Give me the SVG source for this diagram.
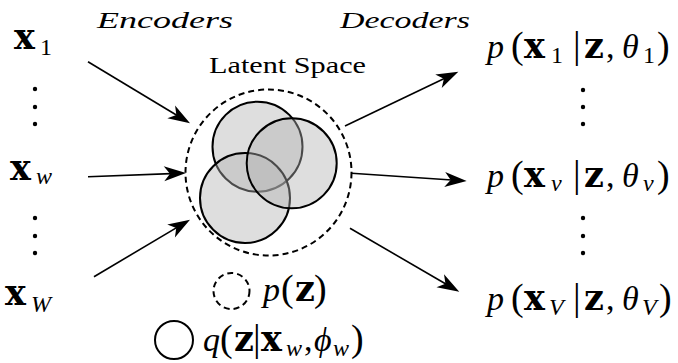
<svg xmlns="http://www.w3.org/2000/svg" width="678" height="363" viewBox="0 0 678 363">
<style>
text { font-family: 'Liberation Serif', 'DejaVu Serif', serif; fill: #000; }
.m { font-size: 34px; }
.s { font-size: 24px; }
.i { font-style: italic; }
.pa { font-size: 38px; }
.b { font-family: 'DejaVu Serif', 'Liberation Serif', serif; font-weight: bold; font-size: 35px; }
.conn line { stroke: #000; stroke-width: 1.6; fill: none; marker-end: url(#arr); }
.lat { fill: #b0b0b0; fill-opacity: 0.42; stroke: #000; stroke-width: 2; }
.dash { fill: none; stroke: #000; stroke-width: 2; stroke-dasharray: 6 4; }
.dot { fill: #000; }
</style>
<defs>
<marker id="arr" markerUnits="userSpaceOnUse" markerWidth="26" markerHeight="18" viewBox="-1 -9 26 18" refX="7" refY="0" orient="auto">
<path d="M22,0 L0,-7.5 L6,0 L0,7.5 Z" fill="#000"/>
</marker>
</defs>
<rect width="678" height="363" fill="#fff"/>

<g id="label-encoders"><text class="i" x="97" y="28" font-size="24" textLength="136" lengthAdjust="spacingAndGlyphs">Encoders</text></g>
<g id="label-decoders"><text class="i" x="340" y="28" font-size="24" textLength="130" lengthAdjust="spacingAndGlyphs">Decoders</text></g>

<g id="input-x1"><text><tspan class="b" x="14" y="49">x</tspan><tspan class="s" x="40" y="55">1</tspan></text></g>
<g id="dots-left-1"><circle class="dot" cx="35" cy="89" r="2.2"/><circle class="dot" cx="35" cy="107" r="2.2"/><circle class="dot" cx="35" cy="124" r="2.2"/></g>
<g id="input-xw"><text><tspan class="b" x="10" y="180">x</tspan><tspan class="s i" x="36" y="184">w</tspan></text></g>
<g id="dots-left-2"><circle class="dot" cx="35" cy="218" r="2.2"/><circle class="dot" cx="35" cy="236" r="2.2"/><circle class="dot" cx="35" cy="253" r="2.2"/></g>
<g id="input-xW"><text><tspan class="b" x="5" y="305">x</tspan><tspan class="s i" x="31" y="312">W</tspan></text></g>

<g id="latent-space">
<text x="209" y="73" font-size="23" textLength="157" lengthAdjust="spacingAndGlyphs">Latent Space</text>
<circle class="dash" cx="268.5" cy="172.5" r="83"/>
<circle class="lat" cx="257.5" cy="146.7" r="45"/>
<circle class="lat" cx="245" cy="198" r="45"/>
<circle class="lat" cx="291.7" cy="163.3" r="45"/>
</g>

<g id="output-1"><text class="m"><tspan class="i" x="487" y="58">p</tspan><tspan class="pa" x="511" y="58">(</tspan><tspan class="b" x="524" y="58">x</tspan><tspan class="s" x="551" y="63">1</tspan><tspan class="pa" x="573" y="58">|</tspan><tspan class="b" x="584" y="58">z</tspan><tspan x="606" y="58">,</tspan><tspan class="i" x="622" y="58">θ</tspan><tspan class="s" x="643" y="63">1</tspan><tspan class="pa" x="657" y="58">)</tspan></text></g>
<g id="dots-right-1"><circle class="dot" cx="583" cy="90" r="2.2"/><circle class="dot" cx="583" cy="107" r="2.2"/><circle class="dot" cx="583" cy="124" r="2.2"/></g>
<g id="output-v"><text class="m"><tspan class="i" x="487" y="187">p</tspan><tspan class="pa" x="511" y="187">(</tspan><tspan class="b" x="524" y="187">x</tspan><tspan class="s i" x="551" y="191">v</tspan><tspan class="pa" x="573" y="187">|</tspan><tspan class="b" x="584" y="187">z</tspan><tspan x="606" y="187">,</tspan><tspan class="i" x="622" y="187">θ</tspan><tspan class="s i" x="643" y="191">v</tspan><tspan class="pa" x="657" y="187">)</tspan></text></g>
<g id="dots-right-2"><circle class="dot" cx="583" cy="218" r="2.2"/><circle class="dot" cx="583" cy="236" r="2.2"/><circle class="dot" cx="583" cy="253" r="2.2"/></g>
<g id="output-V"><text class="m"><tspan class="i" x="487" y="310">p</tspan><tspan class="pa" x="511" y="310">(</tspan><tspan class="b" x="524" y="310">x</tspan><tspan class="s i" x="549" y="315">V</tspan><tspan class="pa" x="573" y="310">|</tspan><tspan class="b" x="584" y="310">z</tspan><tspan x="606" y="310">,</tspan><tspan class="i" x="622" y="310">θ</tspan><tspan class="s i" x="642" y="315">V</tspan><tspan class="pa" x="659" y="310">)</tspan></text></g>

<g id="legend-prior">
<circle class="dash" cx="231.5" cy="291" r="18"/>
<text class="m"><tspan class="i" x="263" y="301">p</tspan><tspan class="pa" x="281" y="301">(</tspan><tspan class="b" x="295" y="301">z</tspan><tspan class="pa" x="314" y="301">)</tspan></text>
</g>
<g id="legend-posterior">
<circle cx="174" cy="340" r="19" fill="none" stroke="#000" stroke-width="2"/>
<text class="m"><tspan class="i" x="203" y="351">q</tspan><tspan class="pa" x="220" y="351">(</tspan><tspan class="b" x="234" y="351">z</tspan><tspan class="pa" x="253" y="351">|</tspan><tspan class="b" x="261" y="351">x</tspan><tspan class="s i" x="286" y="356">w</tspan><tspan x="304" y="351">,</tspan><tspan class="i" x="314" y="351">ϕ</tspan><tspan class="s i" x="333" y="356">w</tspan><tspan class="pa" x="351" y="351">)</tspan></text>
</g>

<g id="connectors" class="conn">
<line x1="88" y1="61.7" x2="177.2" y2="115.5"/>
<line x1="88" y1="176.7" x2="171" y2="173.6"/>
<line x1="94" y1="276.7" x2="177.1" y2="227.4"/>
<line x1="345" y1="126" x2="444.8" y2="78.2"/>
<line x1="351.7" y1="173.3" x2="451.7" y2="180"/>
<line x1="350" y1="228.3" x2="446.3" y2="284.2"/>
</g>
</svg>
